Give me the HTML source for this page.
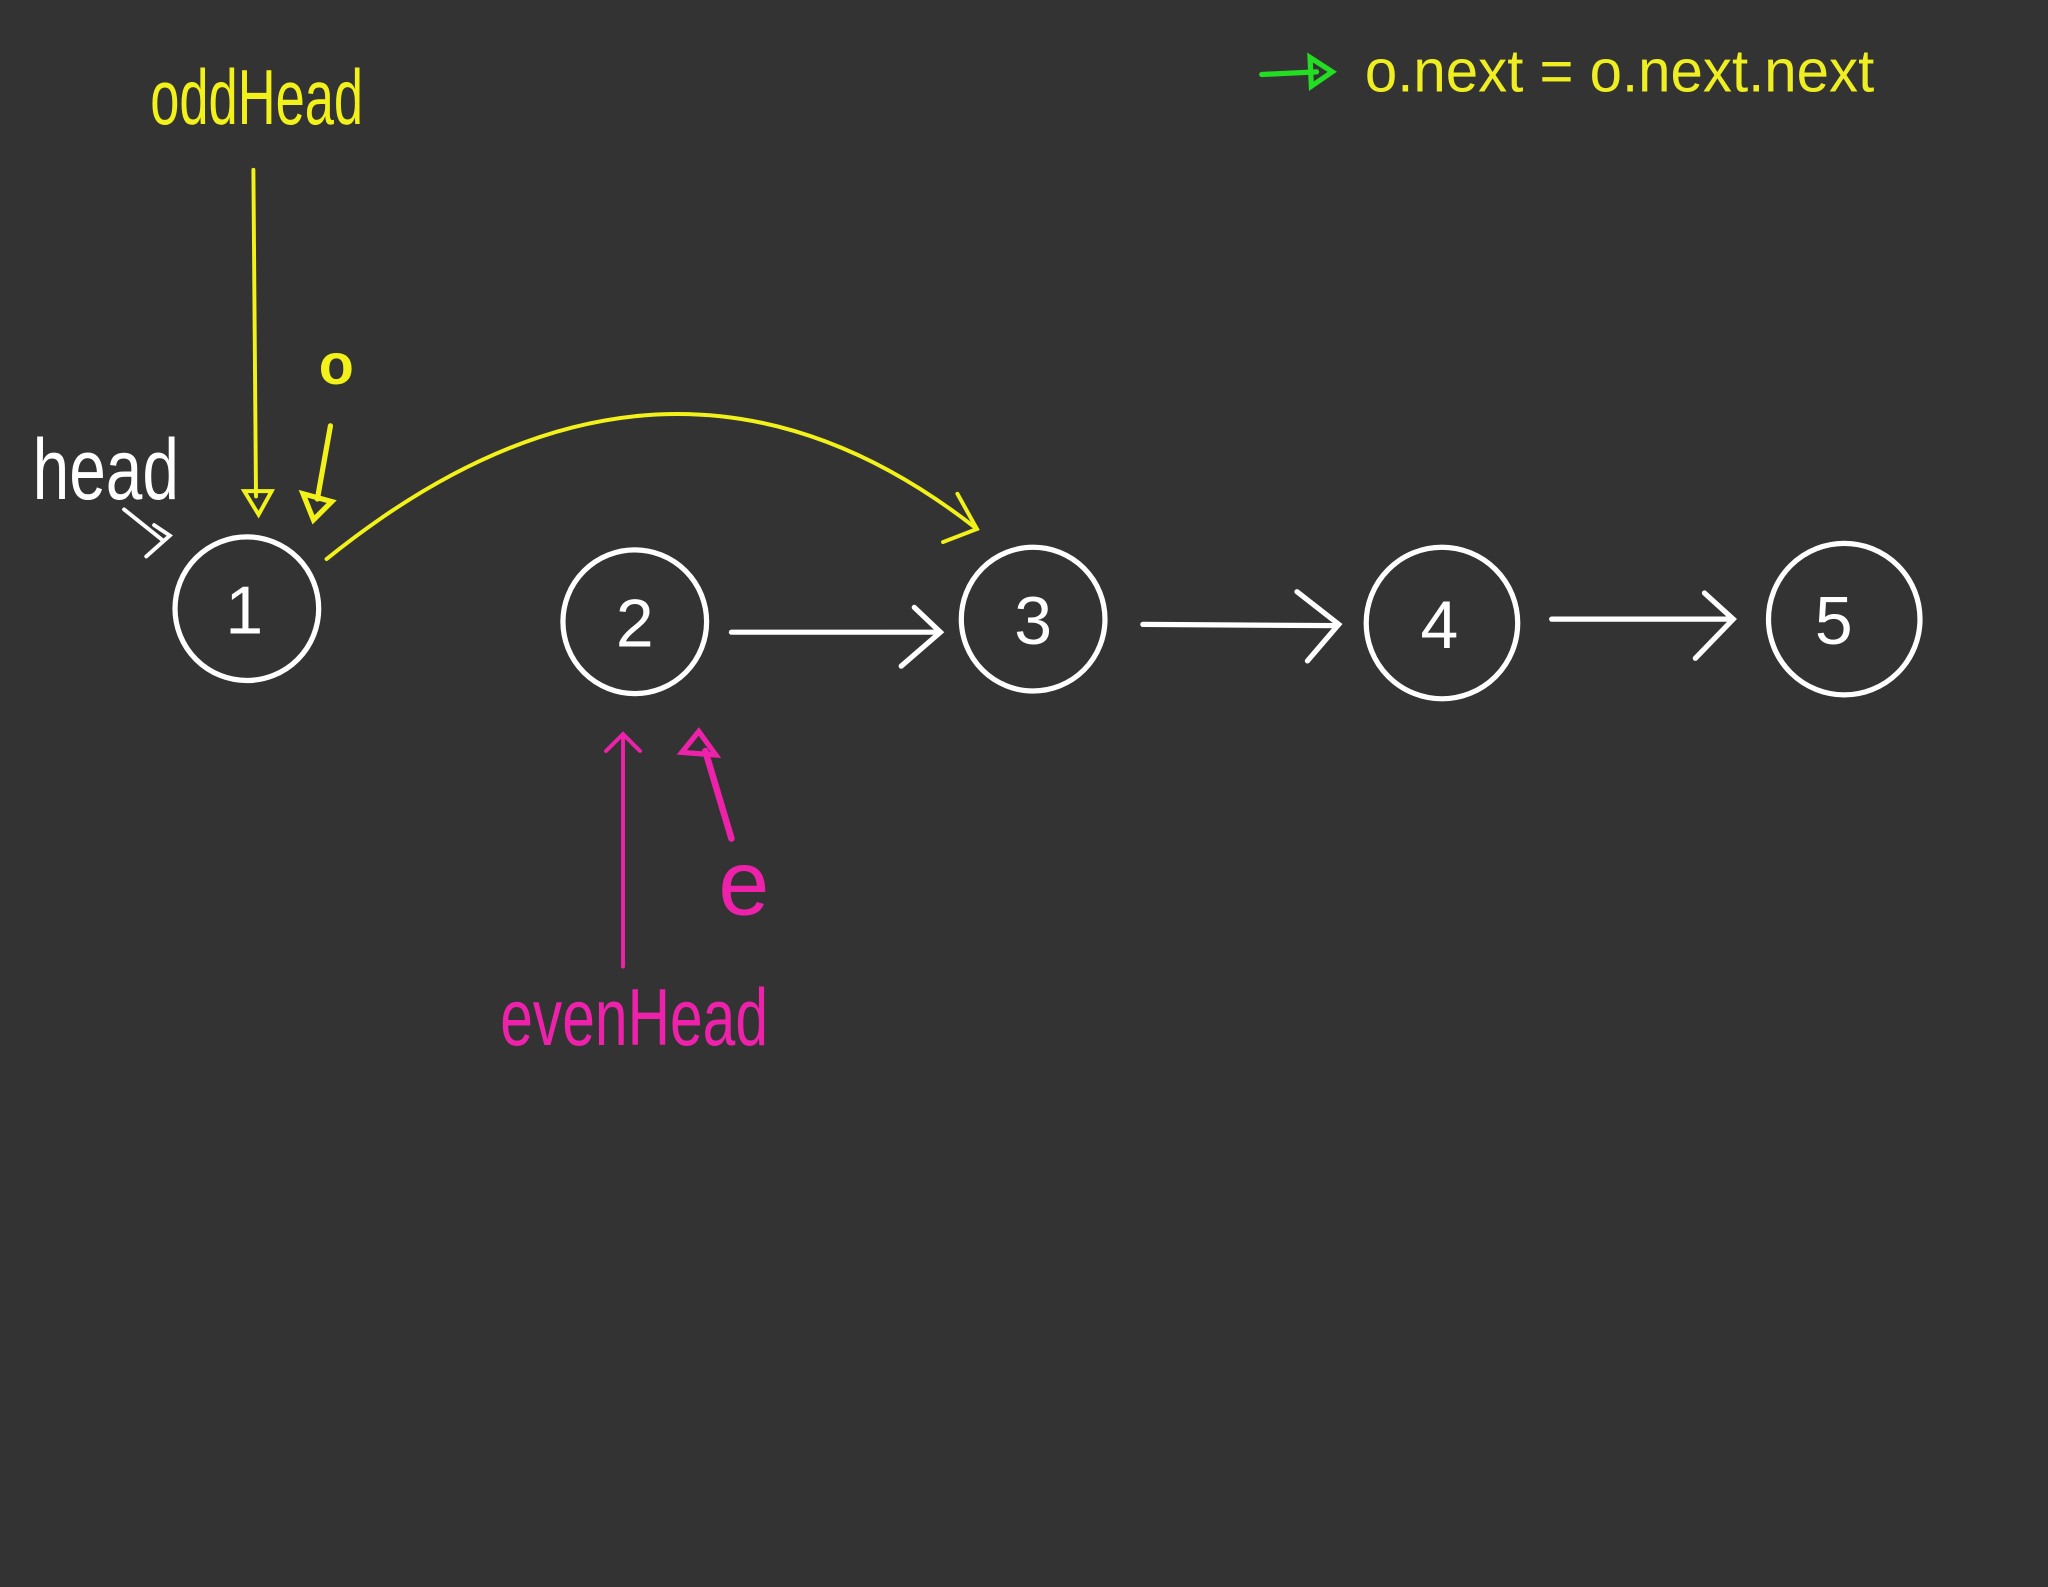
<!DOCTYPE html>
<html><head><meta charset="utf-8"><style>
html,body{margin:0;padding:0;background:#333333;}
svg{display:block;}
text{font-family:"Liberation Sans",sans-serif;}
</style></head><body>
<svg width="2048" height="1587" viewBox="0 0 1568 1215" xmlns="http://www.w3.org/2000/svg">
<rect width="1568" height="1215" fill="#333333"/>
<!-- legend -->
<g stroke="#22dd22" stroke-width="4" fill="none" stroke-linecap="round">
<line x1="966" y1="57" x2="1008" y2="55"/>
<polygon points="1003,44 1020,55 1004,66"/>
</g>
<text x="1045" y="70" fill="#eeee22" font-size="46" textLength="390" lengthAdjust="spacingAndGlyphs">o.next = o.next.next</text>
<!-- oddHead -->
<text x="115" y="95" fill="#f2f21a" font-size="60" textLength="163" lengthAdjust="spacingAndGlyphs">oddHead</text>
<g stroke="#f2f21a" stroke-width="3" fill="none" stroke-linecap="round">
<line x1="194" y1="130" x2="196" y2="380"/>
<polygon points="187,376 208,376 198,394"/>
<line x1="253" y1="326" x2="243" y2="382" stroke-width="4"/>
<polygon points="232,378 254,384 240,398" stroke-width="4"/>
<path d="M250,428 Q510,218 748,405" stroke-width="3"/>
<polyline points="733,378 748,405 722,415"/>
</g>
<text x="244" y="294" fill="#f2f21a" font-size="44" font-weight="bold">o</text>
<!-- head -->
<text x="25" y="382" fill="#ffffff" font-size="66" textLength="112" lengthAdjust="spacingAndGlyphs">head</text>
<g stroke="#fff" stroke-width="3" fill="none" stroke-linecap="round">
<line x1="95" y1="390" x2="125" y2="414"/>
<polyline points="118,402 130,410 112,426"/>
</g>
<!-- nodes -->
<g stroke="#fff" stroke-width="4" fill="none">
<circle cx="189" cy="466" r="55"/>
<circle cx="486" cy="476" r="55"/>
<circle cx="791" cy="474" r="55"/>
<circle cx="1104" cy="477" r="58"/>
<circle cx="1412" cy="474" r="58"/>
</g>
<g fill="#fff" font-size="52" text-anchor="middle">
<text x="187" y="485">1</text>
<text x="486" y="495">2</text>
<text x="791" y="493">3</text>
<text x="1102" y="496">4</text>
<text x="1404" y="493">5</text>
</g>
<g stroke="#fff" stroke-width="4" fill="none" stroke-linecap="round">
<line x1="560" y1="484" x2="718" y2="484"/>
<polyline points="700,465 720,484 690,510"/>
<line x1="875" y1="478" x2="1024" y2="479"/>
<polyline points="993,453 1025,478 1001,506"/>
<line x1="1188" y1="474" x2="1326" y2="474"/>
<polyline points="1305,454 1327,474 1298,504"/>
</g>
<!-- pink -->
<g stroke="#ee22aa" stroke-width="3" fill="none" stroke-linecap="round">
<line x1="477" y1="740" x2="477" y2="565"/>
<polyline points="464,575 477,562 490,575"/>
<line x1="560" y1="642" x2="540" y2="575" stroke-width="5"/>
<path d="M535,560 L522,576 L548,578 Z" stroke-width="4"/>
</g>
<text x="550" y="700" fill="#ee22aa" font-size="70">e</text>
<text x="383" y="800" fill="#ee22aa" font-size="62" textLength="205" lengthAdjust="spacingAndGlyphs">evenHead</text>
</svg>
</body></html>
